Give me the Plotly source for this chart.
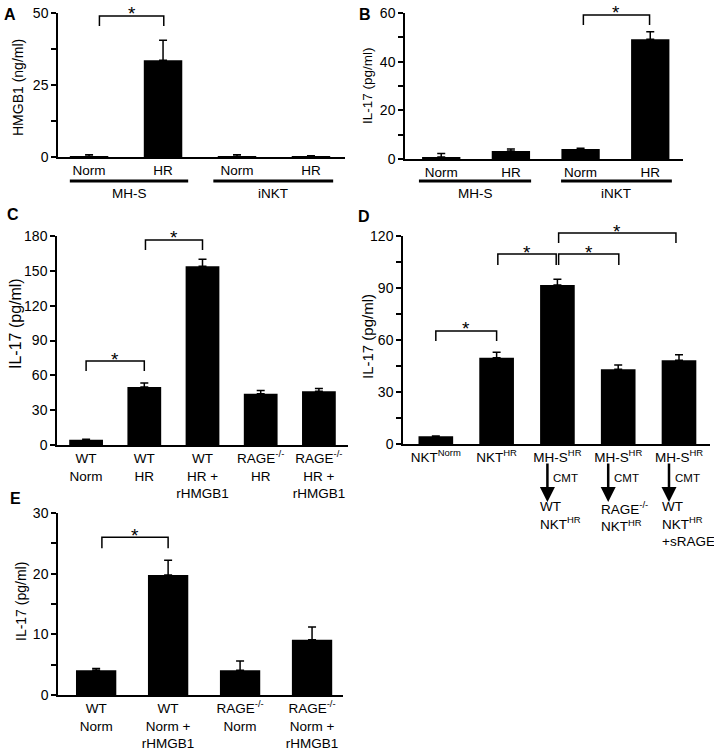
import plotly.graph_objects as go

W, H = 714, 753
FONT = "Liberation Sans, Arial, sans-serif"

# ---------------- data ----------------
a_categories = ["MH-S Norm", "MH-S HR", "iNKT Norm", "iNKT HR"]
a_ticklabels = ["Norm", "HR", "Norm", "HR"]
a_hmgb1 = [0.2, 33.6, 0.2, 0.15]
a_sem = [0.6, 6.9, 0.6, 0.3]

b_categories = ["MH-S Norm", "MH-S HR", "iNKT Norm", "iNKT HR"]
b_ticklabels = ["Norm", "HR", "Norm", "HR"]
b_il17 = [0.8, 3.3, 4.1, 49.2]
b_sem = [1.5, 0.8, 0.3, 3.1]

group_names = ["MH-S", "iNKT"]

c_categories = ["WT Norm", "WT HR", "WT HR + rHMGB1", "RAGE-/- HR", "RAGE-/- HR + rHMGB1"]
c_ticklabels = ["WT<br>Norm", "WT<br>HR", "WT<br>HR +<br>rHMGB1",
                "RAGE<sup>-/-</sup><br>HR", "RAGE<sup>-/-</sup><br>HR +<br>rHMGB1"]
c_il17 = [4.5, 50.0, 154.0, 44.2, 46.3]
c_sem = [0.4, 3.5, 6.0, 2.8, 2.4]

d_categories = ["NKT Norm", "NKT HR", "MH-S HR -> WT NKT HR",
                "MH-S HR -> RAGE-/- NKT HR", "MH-S HR -> WT NKT HR + sRAGE"]
d_ticklabels = ["NKT<sup>Norm</sup>", "NKT<sup>HR</sup>", "MH-S<sup>HR</sup>",
                "MH-S<sup>HR</sup>", "MH-S<sup>HR</sup>"]
d_transfer = [False, False, True, True, True]
d_recipient = ["", "", "WT<br>NKT<sup>HR</sup>", "RAGE<sup>-/-</sup><br>NKT<sup>HR</sup>",
               "WT<br>NKT<sup>HR</sup><br>+sRAGE"]
d_il17 = [4.4, 49.8, 91.8, 43.1, 48.3]
d_sem = [0.2, 3.1, 3.2, 2.5, 3.2]

e_categories = ["WT Norm", "WT Norm + rHMGB1", "RAGE-/- Norm", "RAGE-/- Norm + rHMGB1"]
e_ticklabels = ["WT<br>Norm", "WT<br>Norm +<br>rHMGB1", "RAGE<sup>-/-</sup><br>Norm",
                "RAGE<sup>-/-</sup><br>Norm +<br>rHMGB1"]
e_il17 = [4.1, 19.8, 4.1, 9.1]
e_sem = [0.25, 2.4, 1.5, 2.1]


def px_x(p):
    return p / W


def px_y(p):
    return 1 - p / H


panels = {
    "A": dict(s="", xd=(58, 345), yd=(157, 13), xr=(-0.42, 3.46), yr=(0, 50), dt=25, mn=12.5,
              title="HMGB1 (ng/ml)", tfs=14, tpos=(18, 88), cats=a_categories, tl=a_ticklabels,
              v=a_hmgb1, e=a_sem, w=0.52, lab=(10, 15)),
    "B": dict(s="2", xd=(405, 683), yd=(159, 13), xr=(-0.52, 3.47), yr=(0, 60), dt=20, mn=10,
              title="IL-17 (pg/ml)", tfs=13.5, tpos=(367, 85), cats=b_categories, tl=b_ticklabels,
              v=b_il17, e=b_sem, w=0.55, lab=(365, 15)),
    "C": dict(s="3", xd=(57, 348), yd=(445, 236), xr=(-0.5, 4.5), yr=(0, 180), dt=30, mn=None,
              title="IL-17 (pg/ml)", tfs=16, tpos=(15, 324), cats=c_categories, tl=c_ticklabels,
              v=c_il17, e=c_sem, w=0.58, lab=(13, 215)),
    "D": dict(s="4", xd=(403, 710), yd=(444, 236), xr=(-0.54, 4.51), yr=(0, 120), dt=30, mn=15,
              title="IL-17 (pg/ml)", tfs=15, tpos=(367, 336), cats=d_categories, tl=d_ticklabels,
              v=d_il17, e=d_sem, w=0.57, lab=(364, 217)),
    "E": dict(s="5", xd=(58, 343), yd=(695, 513), xr=(-0.53, 3.43), yr=(0, 30), dt=10, mn=5,
              title="IL-17 (pg/ml)", tfs=14, tpos=(21, 602), cats=e_categories, tl=e_ticklabels,
              v=e_il17, e=e_sem, w=0.56, lab=(15, 498)),
}

fig = go.Figure()
shapes = []
annotations = []
layout = {}

for name, p in panels.items():
    s = p["s"]
    fig.add_trace(go.Bar(
        x=p["cats"], y=p["v"], width=p["w"],
        marker=dict(color="black", line=dict(width=0)),
        error_y=dict(type="data", array=p["e"], arrayminus=[0] * len(p["e"]), symmetric=False,
                     color="black", thickness=1.5, width=4),
        xaxis="x" + s, yaxis="y" + s, showlegend=False,
    ))
    yax = dict(
        domain=[px_y(p["yd"][0]), px_y(p["yd"][1])], range=list(p["yr"]), anchor="x" + s,
        showline=True, linecolor="black", linewidth=1.5, showgrid=False, zeroline=False,
        ticks="outside", ticklen=5, tickwidth=1.5, tickcolor="black", dtick=p["dt"], tick0=0,
        tickfont=dict(family=FONT, size=14, color="black"),
        automargin=False, fixedrange=True,
    )
    if p["mn"]:
        yax["minor"] = dict(dtick=p["mn"], tick0=0, ticks="outside", ticklen=5, tickwidth=1.5,
                            tickcolor="black", showgrid=False)
    xax = dict(
        domain=[px_x(p["xd"][0]), px_x(p["xd"][1])], range=list(p["xr"]), anchor="y" + s,
        type="category", categoryorder="array", categoryarray=p["cats"],
        showline=True, linecolor="black", linewidth=1.5, showgrid=False, zeroline=False, ticks="",
        tickmode="array", tickvals=p["cats"], ticktext=p["tl"],
        tickfont=dict(family=FONT, size=13.5, color="black"), automargin=False, fixedrange=True,
    )
    layout["xaxis" + s] = xax
    layout["yaxis" + s] = yax
    annotations.append(dict(text="<b>%s</b>" % name, xref="paper", yref="paper",
                            x=px_x(p["lab"][0]), y=px_y(p["lab"][1]), xanchor="center", yanchor="middle",
                            showarrow=False, font=dict(family=FONT, size=16, color="black")))
    annotations.append(dict(text=p["title"], xref="paper", yref="paper", textangle=-90,
                            x=px_x(p["tpos"][0]), y=px_y(p["tpos"][1]), xanchor="center", yanchor="middle",
                            showarrow=False, font=dict(family=FONT, size=p["tfs"], color="black")))


def fx(p, v):
    r = p["xr"]
    return (v - r[0]) / (r[1] - r[0])


def fy(p, v):
    r = p["yr"]
    return (v - r[0]) / (r[1] - r[0])


def bracket(pname, x0, x1, ytop, ybot):
    p = panels[pname]
    s = p["s"]
    X0, X1, YT, YB = fx(p, x0), fx(p, x1), fy(p, ytop), fy(p, ybot)
    shapes.append(dict(type="path", xref="x%s domain" % s, yref="y%s domain" % s,
                       path="M %f,%f L %f,%f L %f,%f L %f,%f" % (X0, YB, X0, YT, X1, YT, X1, YB),
                       line=dict(color="black", width=1.5)))
    annotations.append(dict(text="*", xref="x%s domain" % s, yref="y%s domain" % s,
                            x=(X0 + X1) / 2, y=YT, xanchor="center", yanchor="middle", yshift=2,
                            showarrow=False, font=dict(family=FONT, size=19, color="black")))


bracket("A", 0.14, 1.01, 49.0, 45.5)
bracket("B", 2.04, 2.99, 59.2, 55.1)
bracket("C", 0.0, 1.0, 72.3, 63.7)
bracket("C", 1.02, 2.0, 176.6, 168.0)
bracket("D", 0.0, 1.0, 65.2, 59.4)
bracket("D", 1.02, 1.98, 109.6, 103.3)
bracket("D", 2.02, 3.01, 109.6, 103.3)
bracket("D", 2.02, 3.95, 121.7, 116.0)
bracket("E", 0.08, 1.0, 26.0, 24.2)

# group underlines and labels for A and B
for pname, segs in (("A", [(-0.26, 1.34), (1.68, 3.30)]), ("B", [(-0.32, 1.29), (1.72, 3.31)])):
    p = panels[pname]
    s = p["s"]
    for (x0, x1), g in zip(segs, group_names):
        shapes.append(dict(type="line", xref="x%s domain" % s, yref="paper",
                           x0=fx(p, x0), x1=fx(p, x1), y0=px_y(181), y1=px_y(181),
                           line=dict(color="black", width=3)))
        annotations.append(dict(text=g, xref="x%s domain" % s, yref="paper",
                                x=fx(p, (x0 + x1) / 2), y=px_y(193), xanchor="center", yanchor="middle",
                                showarrow=False, font=dict(family=FONT, size=13.5, color="black")))

# transfer arrows for D
for cat, tr, rec in zip(d_categories, d_transfer, d_recipient):
    if not tr:
        continue
    annotations.append(dict(text="", xref="x4", yref="paper", x=cat, y=px_y(502), xshift=-10,
                            showarrow=True, ax=0, ay=-40, arrowhead=2, arrowsize=1.2, arrowwidth=2.5,
                            arrowcolor="black", standoff=0, startstandoff=0))
    annotations.append(dict(text="CMT", xref="x4", yref="paper", x=cat, y=px_y(478), xshift=-6,
                            xanchor="left", yanchor="middle", showarrow=False,
                            font=dict(family=FONT, size=11.5, color="black")))
    annotations.append(dict(text=rec, xref="x4", yref="paper", x=cat, y=px_y(497), xshift=-19,
                            xanchor="left", yanchor="top", align="left", showarrow=False,
                            font=dict(family=FONT, size=13.5, color="black")))

fig.update_layout(
    width=W, height=H, margin=dict(l=0, r=0, t=0, b=0),
    paper_bgcolor="white", plot_bgcolor="white",
    font=dict(family=FONT, size=13, color="black"),
    showlegend=False, shapes=shapes, annotations=annotations, **layout,
)

fig.write_html("out.html", config={"displayModeBar": False},
               post_script="document.body.style.margin='0';")
